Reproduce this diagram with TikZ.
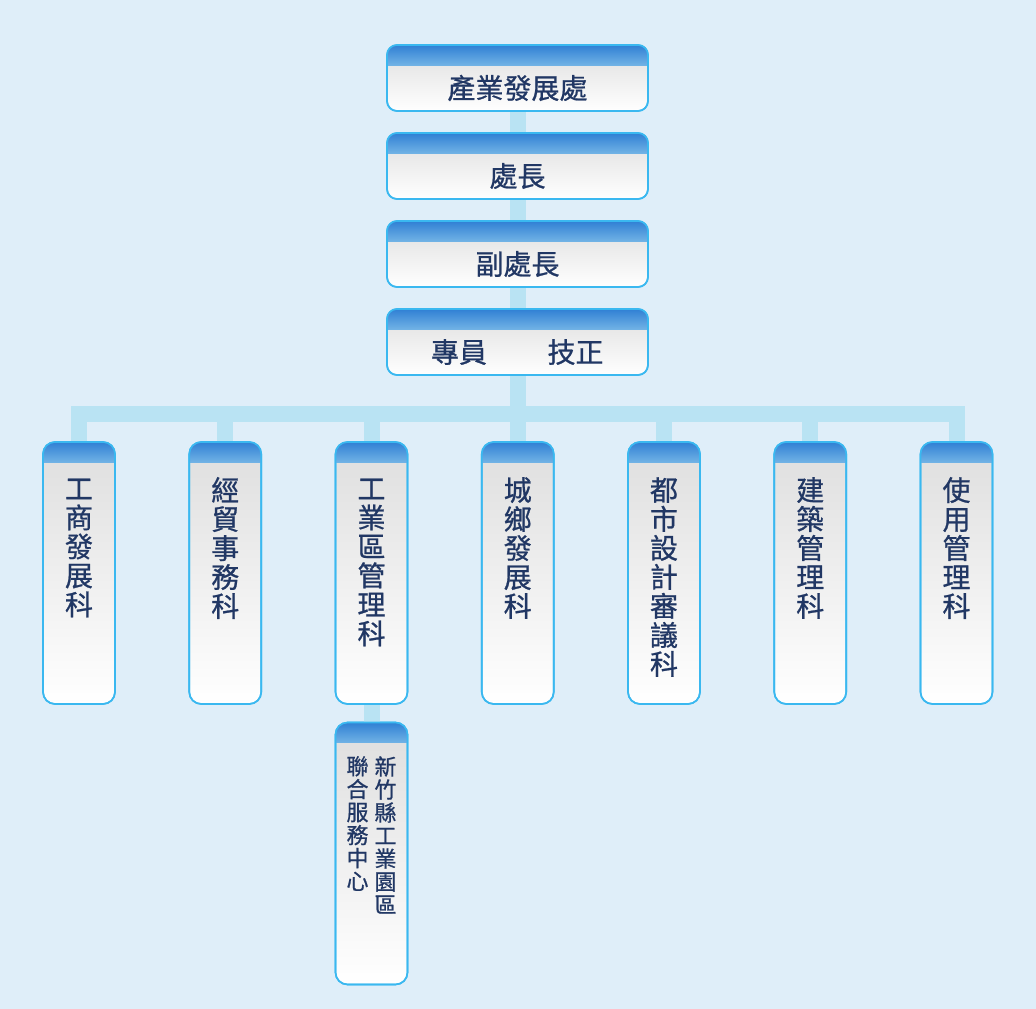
\documentclass[tikz,border=0pt]{standalone}
\usepackage{fontspec}
\newfontfamily\cjk[FakeBold=0.8]{Noto Sans CJK TC}
\definecolor{bgcol}{RGB}{223,238,249}
\definecolor{linkcol}{RGB}{185,227,243}
\definecolor{edgecol}{RGB}{58,184,240}
\definecolor{headA}{RGB}{48,128,212}
\definecolor{headB}{RGB}{112,178,229}
\definecolor{bodyA}{RGB}{222,222,222}
\definecolor{inkcol}{RGB}{33,55,100}
\tikzset{
  unit/.style={draw=edgecol, line width=1.6pt, rounded corners=10pt,
    top color=bodyA, bottom color=white, inner sep=0pt, outer sep=0pt,
    minimum width=261pt, minimum height=66pt},
  col/.style={unit, rounded corners=12pt, minimum width=72pt, minimum height=262pt},
  title/.style={text=inkcol, inner sep=0pt, font=\cjk\fontsize{28pt}{29pt}\selectfont},
  vert/.style={title, align=center},
  small/.style={vert, font=\cjk\fontsize{22pt}{23pt}\selectfont},
  link/.style={draw=linkcol, line width=16pt, line join=miter, line cap=butt}
}
\begin{document}
\begin{tikzpicture}[x=1pt,y=-1pt]
\fill[bgcol] (0,0) rectangle (1036,1009);
% top chain
\node[unit] (chu) at (517.5,78) {};
\node[unit] (zhang) at (517.5,166) {};
\node[unit] (fu) at (517.5,254) {};
\node[unit] (yuan) at (517.5,342) {};
% sections
\node[col] (k1) at (79,573) {};
\node[col] (k2) at (225.25,573) {};
\node[col] (k3) at (371.5,573) {};
\node[col] (k4) at (517.75,573) {};
\node[col] (k5) at (664,573) {};
\node[col] (k6) at (810.25,573) {};
\node[col] (k7) at (956.5,573) {};
\node[col] (ctr) at (371.5,853.5) {};
% connectors
\coordinate (bar) at (517.5,414);
\draw[link] (chu.south) -- (zhang.north);
\draw[link] (zhang.south) -- (fu.north);
\draw[link] (fu.south) -- (yuan.north);
\draw[link] (yuan.south) -- (bar);
\draw[link] (k1.north) |- (bar) -| (k7.north);
\draw[link] (k2.north) -- (k2.north |- bar);
\draw[link] (k3.north) -- (k3.north |- bar);
\draw[link] (k4.north) -- (k4.north |- bar);
\draw[link] (k5.north) -- (k5.north |- bar);
\draw[link] (k6.north) -- (k6.north |- bar);
\draw[link] (k3.south) -- (ctr.north);
% blue heads
\foreach \n/\r in {chu/10,zhang/10,fu/10,yuan/10,k1/12,k2/12,k3/12,k4/12,k5/12,k6/12,k7/12,ctr/12}{
  \begin{scope}
    \clip[rounded corners=\r pt] (\n.north west) rectangle (\n.south east);
    \shade[top color=headA, bottom color=headB] (\n.north west) rectangle ([yshift=-20pt]\n.north east);
  \end{scope}
  \draw[edgecol, line width=1.6pt, rounded corners=\r pt] (\n.north west) rectangle (\n.south east);
}
% texts
\node[title] (chuT) at (517.5,88) {產業發展處};
\node[title] (zhangT) at (517.5,176) {處長};
\node[title] (fuT) at (517.5,264) {副處長};
\node[title] (yuanA) at (459,352) {專員};
\node[title] (yuanB) at (575.5,352) {技正};
\node[vert] (k1T) at (79,548) {工\\商\\發\\展\\科};
\node[vert] (k2T) at (225.25,548) {經\\貿\\事\\務\\科};
\node[vert] (k3T) at (371.5,562.5) {工\\業\\區\\管\\理\\科};
\node[vert] (k4T) at (517.75,548) {城\\鄉\\發\\展\\科};
\node[vert] (k5T) at (664,577) {都\\市\\設\\計\\審\\議\\科};
\node[vert] (k6T) at (810.25,548) {建\\築\\管\\理\\科};
\node[vert] (k7T) at (956.5,548) {使\\用\\管\\理\\科};
\node[small] (ctrA) at (385.5,835) {新\\竹\\縣\\工\\業\\園\\區};
\node[small] (ctrB) at (357.5,823.5) {聯\\合\\服\\務\\中\\心};
\end{tikzpicture}
\end{document}
